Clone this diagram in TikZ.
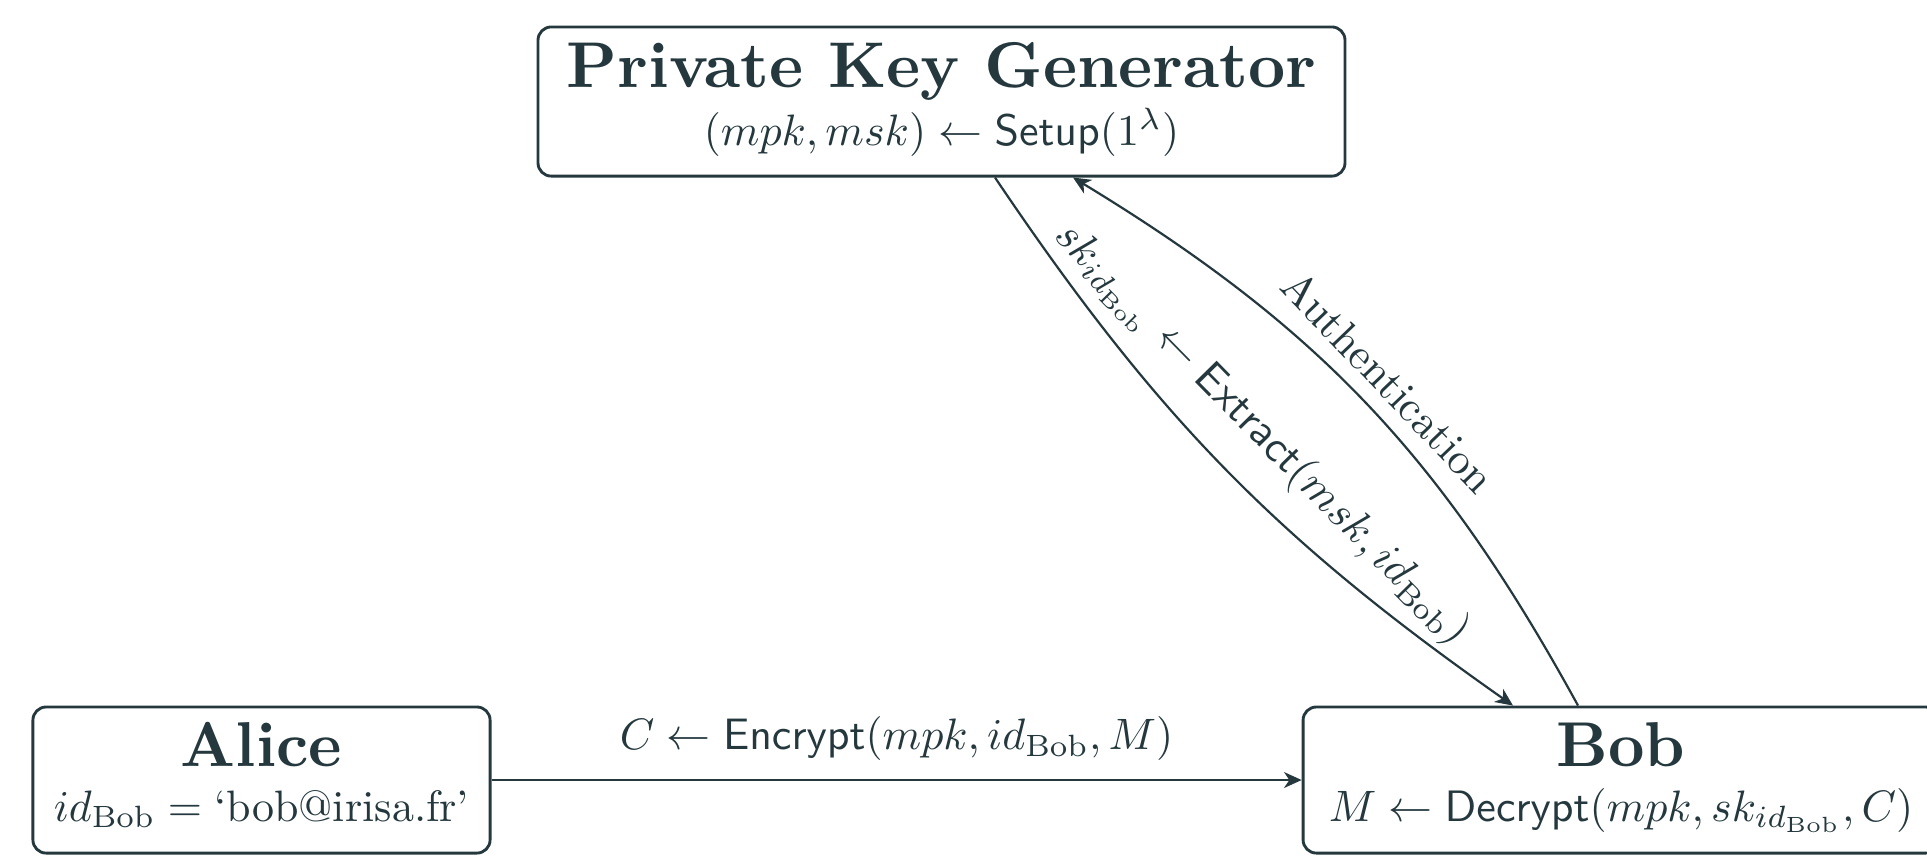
\documentclass[tikz,border=0pt]{standalone}
\usepackage{amsmath}
\usetikzlibrary{arrows.meta,calc}
\definecolor{ink}{RGB}{36,56,62}
\begin{document}
\begin{tikzpicture}[x=0.22727pt,y=-0.22727pt,
  party/.style={draw=ink, line width=0.65pt, rounded corners=3pt, inner sep=0pt},
  title/.style={anchor=base, inner sep=0pt, font=\bfseries, scale=1.44, text=ink},
  subline/.style={anchor=base, inner sep=0pt, text=ink},
  link/.style={draw=ink, line width=0.5pt, -{Stealth[length=4pt,width=3.6pt,inset=1.2pt]}},
  lbl/.style={text=ink, sloped, above}]
\useasboundingbox (0,0) rectangle (1927,855);

% the three parties
\node[party, minimum width=183.4pt, minimum height=33.9pt] (pkg) at (941.5,101.5) {};
\node[party, minimum width=103.9pt, minimum height=33.2pt] (alice) at (261.5,780) {};
\node[party, minimum width=144.5pt, minimum height=33.2pt] (bob) at (1621,780) {};

% names and operations inside the boxes
\node[title, scale=1.021] (pkg-name) at ($(pkg.center)+(0,-14)$) {Private Key Generator};
\node[subline] (pkg-op) at ($(pkg.center)+(0,43.5)$) {$(mpk,msk) \leftarrow \mathsf{Setup}(1^\lambda)$};
\node[title] (alice-name) at ($(alice.center)+(0,-13.5)$) {Alice};
\node[subline] (alice-id) at ($(alice.center)+(0,41)$) {$id_{\mathrm{Bob}} = \text{`bob@irisa.fr'}$};
\node[title] (bob-name) at ($(bob.center)+(0,-13.5)$) {Bob};
\node[subline] (bob-op) at ($(bob.center)+(0,41)$) {$M \leftarrow \mathsf{Decrypt}(mpk, sk_{id_{\mathrm{Bob}}}, C)$};

% message flow
\draw[link] (alice.east) -- node[above, outer ysep=1pt, text=ink] {$C \leftarrow \mathsf{Encrypt}(mpk, id_{\mathrm{Bob}}, M)$} (bob.west);
\draw[link] ($(pkg.south)+(53.5,0)$) to[bend right=10.5]
  node[lbl, outer ysep=3pt] {$sk_{id_{\mathrm{Bob}}} \leftarrow \mathsf{Extract}(msk, id_{\mathrm{Bob}})$} ($(bob.north)+(-108,0)$);
\draw[link] ($(bob.north)+(-43,0)$) to[bend right=15]
  node[lbl] {Authentication} ($(pkg.south)+(131.5,0)$);
\end{tikzpicture}
\end{document}
